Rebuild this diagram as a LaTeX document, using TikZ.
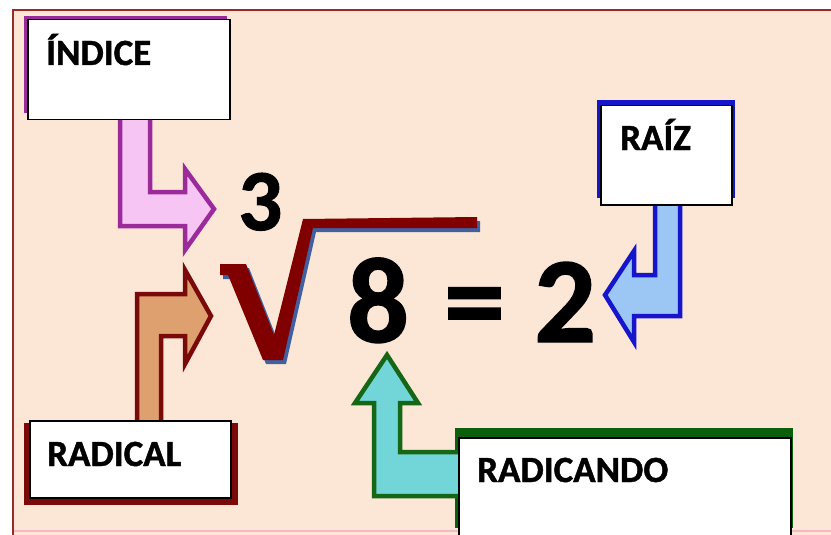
\documentclass[tikz,border=0pt]{standalone}
\usepackage{fontspec}
\setmainfont{Carlito}[BoldFeatures={FakeBold=1.2}]
\definecolor{peach}{HTML}{FCE6D6}
\definecolor{framered}{HTML}{9A2A2A}
\definecolor{pinkfill}{HTML}{F7C5F3}
\definecolor{purplestroke}{HTML}{9B2A9B}
\definecolor{orangefill}{HTML}{DFA070}
\definecolor{darkred}{HTML}{7A0A0A}
\definecolor{radred}{HTML}{800000}
\definecolor{radshadow}{HTML}{4060A0}
\definecolor{bluestroke}{HTML}{1515CC}
\definecolor{bluefill}{HTML}{9CC6F4}
\definecolor{greenstroke}{HTML}{156615}
\definecolor{greenfill}{HTML}{72D6D8}
\definecolor{greenshadow}{HTML}{0B5E0B}
\definecolor{bottompink}{HTML}{F4B8C8}
\tikzset{
  boxst/.style={draw=black, line width=1.5pt, fill=white, inner sep=0pt, anchor=north west},
  lbl/.style={inner sep=0pt, anchor=base west, font=\fontsize{37}{40}\selectfont\bfseries},
  bigdigit/.style={inner sep=0pt, anchor=base west, font=\fontsize{122}{130}\selectfont\bfseries},
  arrowst/.style={line width=4.5pt, line join=miter}
}
\begin{document}
\begin{tikzpicture}[x=1pt,y=-1pt]
\clip (0,0) rectangle (831,535);
\fill[white] (0,0) rectangle (831,535);
% frame
\fill[peach] (13,10) rectangle (831,535);
\draw[bottompink, line width=2pt] (13,531) -- (831,531);
\draw[framered, line width=2.5pt] (13,535) -- (13,10) -- (831,10);
% shadows of boxes
\fill[purplestroke] (24,16) rectangle (227,113);
\fill[bluestroke] (597,100) rectangle (735,198);
\fill[darkred] (24,423) rectangle (238,505);
\fill[greenshadow] (455,428) rectangle (793,528);
% arrows
\draw[arrowst, draw=purplestroke, fill=pinkfill]
  (120,115) -- (120,226) -- (185,226) -- (185,250) -- (214,209) -- (185,169)
  -- (185,192) -- (150,192) -- (150,115) -- cycle;
\draw[arrowst, draw=darkred, fill=orangefill]
  (137,425) -- (137,294) -- (185,294) -- (185,270) -- (211,316) -- (185,364)
  -- (185,336) -- (161,336) -- (161,425) -- cycle;
\draw[arrowst, draw=bluestroke, fill=bluefill]
  (655,200) -- (655,275) -- (634,275) -- (634,251) -- (605,295) -- (634,342)
  -- (634,316) -- (680,316) -- (680,200) -- cycle;
\draw[arrowst, draw=greenstroke, fill=greenfill]
  (387,355) -- (418,403) -- (400,403) -- (400,452) -- (465,452) -- (465,496)
  -- (374,496) -- (374,403) -- (355,403) -- cycle;
% radical sign
\fill[radshadow, shift={(3,4)}]
  (220,264) -- (246,264) -- (274,335) -- (303,219) -- (477,217) -- (477,228)
  -- (313,228) -- (283,360) -- (263,360) -- (228,275) -- (220,275) -- cycle;
\fill[radred]
  (220,264) -- (246,264) -- (274,335) -- (303,219) -- (477,217) -- (477,228)
  -- (313,228) -- (283,360) -- (263,360) -- (228,275) -- (220,275) -- cycle;
% boxes
\node[boxst, minimum width=202pt, minimum height=100pt] (indice) at (27,19) {};
\node[boxst, minimum width=131pt, minimum height=99pt] (raiz) at (600,105) {};
\node[boxst, minimum width=201pt, minimum height=77pt] (radical) at (29,420) {};
\node[boxst, minimum width=332pt, minimum height=110pt] (radicando) at (458,437) {};
% labels
\node[lbl] (tindice) at (46,65) {ÍNDICE};
\node[lbl] (traiz) at (620,150) {RAÍZ};
\node[lbl] (tradical) at (47,466) {RADICAL};
\node[lbl] (tradicando) at (477,482) {RADICANDO};
% numbers
\node[inner sep=0pt, anchor=base west, font=\fontsize{87}{90}\selectfont\bfseries] (three) at (238,230) {3};
\node[bigdigit] (eight) at (347,342) {8};
\node[bigdigit] (eq) at (444,342) {=};
\node[bigdigit] (two) at (534,342) {2};
\end{tikzpicture}
\end{document}
